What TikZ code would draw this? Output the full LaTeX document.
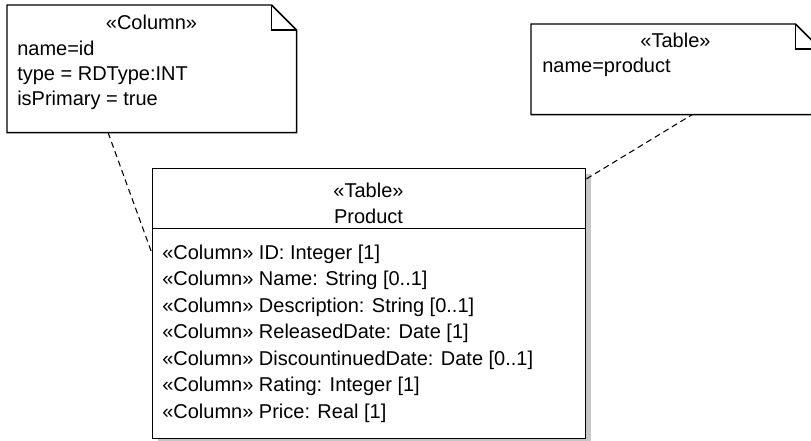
\documentclass[tikz,border=0pt]{standalone}
\usepackage{fontspec}
\setmainfont{Liberation Sans}
\usetikzlibrary{calc,shadows}
\begin{document}
\begin{tikzpicture}[x=0.75pt,y=-0.75pt]
\tikzset{
  outline/.style={draw=black, line width=1.1pt},
  notebody/.style={inner sep=0pt, minimum width=216.75pt},
  tablebox/.style={outline, fill=white, inner sep=0pt,
    minimum width=324.75pt, minimum height=202.5pt,
    drop shadow={shadow xshift=3.8pt, shadow yshift=-3.8pt, fill=black!22, opacity=1}},
  txt/.style={inner sep=0pt, anchor=base west, font=\fontsize{15}{18}\selectfont},
  ctxt/.style={txt, anchor=base},
  link/.style={draw=black, line width=0.8pt, dash pattern=on 4.5pt off 3pt},
}
\useasboundingbox (0,0) rectangle (811,440);
\clip (0,0) rectangle (811,440);

% comment notes (folded corner drawn from the node's anchors)
\node[notebody, minimum height=95.25pt, anchor=north west] (colnote) at (7,5) {};
\node[notebody, minimum height=67.5pt, anchor=north west] (tabnote) at (531,24) {};
\foreach \n in {colnote,tabnote}{
  \draw[outline] (\n.north west) -- ([xshift=-18.75pt]\n.north east)
    -- ([yshift=-18.75pt]\n.north east) -- (\n.south east) -- (\n.south west) -- cycle;
  \draw[outline] ([xshift=-18.75pt]\n.north east) |- ([yshift=-18.75pt]\n.north east);
}
\node[ctxt] (colst) at (151.5,29) {«Column»};
\node[txt] (colname) at (17,55) {name=id};
\node[txt] (coltype) at (17,80) {type = RDType:INT};
\node[txt] (colprim) at (17,105) {isPrimary = true};

\node[ctxt] (tabst) at (675.5,47) {«Table»};
\node[txt] (tabname) at (542,72) {name=product};

% the table class
\node[tablebox, anchor=north west] (prod) at (152,168) {};
\draw[outline] ($(prod.north west)!0.2222!(prod.south west)$) -- ($(prod.north east)!0.2222!(prod.south east)$);
\node[ctxt] (prodst) at (368.5,197) {«Table»};
\node[ctxt] (prodname) at (368.5,223) {Product};
\node[txt] (a1) at (162,259) {«Column» ID: Integer [1]};
\node[txt] (a2) at (162,285.5) {«Column» Name: String [0..1]};
\node[txt] (a3) at (162,312) {«Column» Description: String [0..1]};
\node[txt] (a4) at (162,338.5) {«Column» ReleasedDate: Date [1]};
\node[txt] (a5) at (162,365) {«Column» DiscountinuedDate: Date [0..1]};
\node[txt] (a6) at (162,391.5) {«Column» Rating: Integer [1]};
\node[txt] (a7) at (162,418) {«Column» Price: Real [1]};

% note anchors
\draw[link] ($(colnote.south west)!0.349!(colnote.south east)$) -- ($(prod.north west)!0.315!(prod.south west)$);
\draw[link] ($(prod.north east)!0.04!(prod.south east)$) -- ($(tabnote.south west)!0.557!(tabnote.south east)$);
\end{tikzpicture}
\end{document}
